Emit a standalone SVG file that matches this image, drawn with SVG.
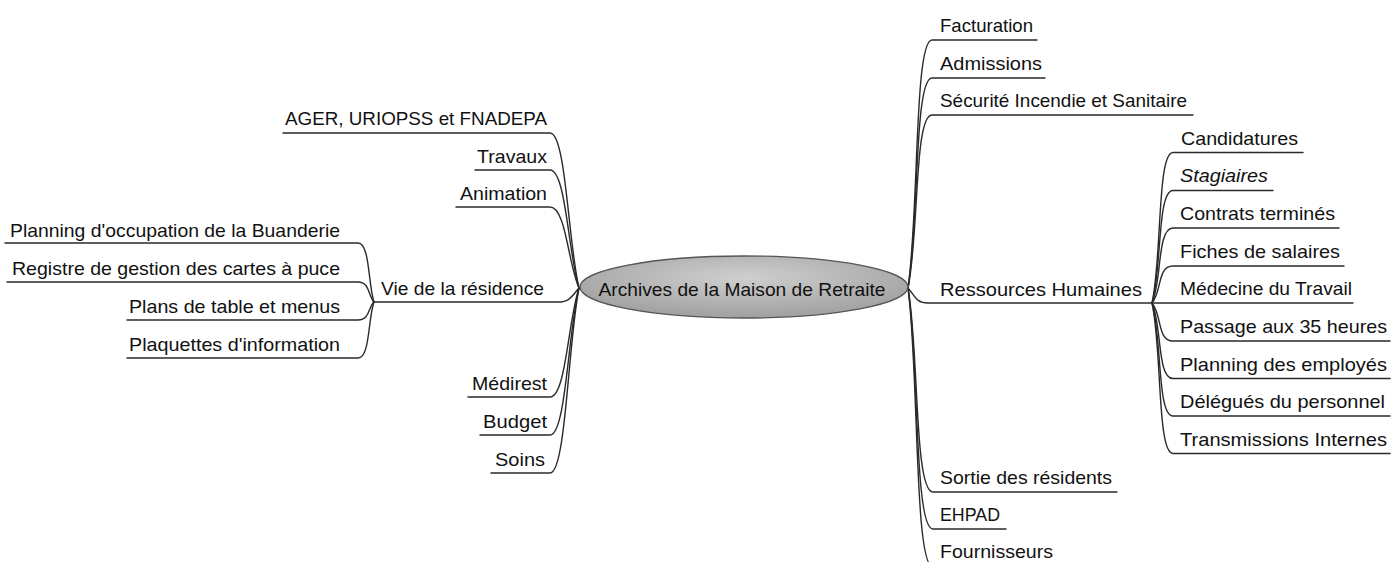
<svg xmlns="http://www.w3.org/2000/svg" width="1391" height="562" viewBox="0 0 1391 562">
<style>
  text { font-family: "Liberation Sans", Arial, sans-serif; font-size: 19px; fill: #111; }
  .l { text-anchor: end; }
  .c { text-anchor: middle; }
  .it { font-style: italic; }
  #connectors path { fill: none; stroke: #2a2a2a; stroke-width: 1.4; stroke-linecap: round; }
</style>
<defs>
  <radialGradient id="g" cx="0.5" cy="0.35" r="0.6">
    <stop offset="0" stop-color="#cfcfcf"/>
    <stop offset="1" stop-color="#a3a3a3"/>
  </radialGradient>
</defs>
<rect width="1391" height="562" fill="#fff"/>
<g id="connectors">
  <path d="M579,288 C568,241.5 566,133 550,133 H283"/>
  <path d="M579,288 C568,252.6 566,170 550,170 H475"/>
  <path d="M579,288 C568,263.7 566,207 550,207 H456"/>
  <path d="M579,288 C572,296 570,302 558,302 H373"/>
  <path d="M579,288 C568,320.7 566,397 550,397 H468"/>
  <path d="M579,288 C568,332.1 566,435 550,435 H480"/>
  <path d="M579,288 C568,343.5 566,473 550,473 H491"/>
  <path d="M374,302 C368,284.3 370,243 358,243 H5"/>
  <path d="M374,302 C368,296 370,282 358,282 H7"/>
  <path d="M374,302 C368,307.4 370,320 358,320 H127"/>
  <path d="M374,302 C368,318.8 370,358 358,358 H127"/>
  <path d="M908,288 C919,213.6 914,40 932,40 H1037"/>
  <path d="M908,288 C919,225 914,78 932,78 H1045"/>
  <path d="M908,288 C919,236.1 914,115 932,115 H1193"/>
  <path d="M908,288 C915,296 916,303 928,303 H1152"/>
  <path d="M908,288 C919,349.2 914,492 933,492 H1117"/>
  <path d="M908,288 C919,360.3 914,529 933,529 H1006"/>
  <path d="M908,288 C919,371.7 914,567 933,567 H1060"/>
  <path d="M1152,303 C1162,257.9 1157,152.5 1173,152.5 H1303"/>
  <path d="M1152,303 C1162,269.3 1157,190.5 1173,190.5 H1273"/>
  <path d="M1152,303 C1162,280.5 1157,228 1173,228 H1339"/>
  <path d="M1152,303 C1162,291.9 1157,266 1173,266 H1344"/>
  <path d="M1152,303 H1353"/>
  <path d="M1152,303 C1162,314.4 1157,341 1173,341 H1390"/>
  <path d="M1152,303 C1162,325.7 1157,378.5 1173,378.5 H1390"/>
  <path d="M1152,303 C1162,336.9 1157,416 1173,416 H1390"/>
  <path d="M1152,303 C1162,348.2 1157,453.5 1173,453.5 H1390"/>
</g>
<g id="center">
  <ellipse cx="744" cy="287" rx="164" ry="31" fill="url(#g)" stroke="#555" stroke-width="1.3"/>
  <text class="c" x="742" y="296" textLength="287" lengthAdjust="spacingAndGlyphs">Archives de la Maison de Retraite</text>
</g>
<g id="ager"><text class="l" x="547" y="125" textLength="262" lengthAdjust="spacingAndGlyphs">AGER, URIOPSS et FNADEPA</text></g>
<g id="travaux"><text class="l" x="547" y="163" textLength="70" lengthAdjust="spacingAndGlyphs">Travaux</text></g>
<g id="animation"><text class="l" x="547" y="200" textLength="87" lengthAdjust="spacingAndGlyphs">Animation</text></g>
<g id="vie"><text class="l" x="544" y="295" textLength="163" lengthAdjust="spacingAndGlyphs">Vie de la résidence</text></g>
<g id="planning-buanderie"><text class="l" x="340" y="237" textLength="330" lengthAdjust="spacingAndGlyphs">Planning d'occupation de la Buanderie</text></g>
<g id="registre"><text class="l" x="340" y="275" textLength="328" lengthAdjust="spacingAndGlyphs">Registre de gestion des cartes à puce</text></g>
<g id="plans"><text class="l" x="340" y="313" textLength="211" lengthAdjust="spacingAndGlyphs">Plans de table et menus</text></g>
<g id="plaquettes"><text class="l" x="340" y="351" textLength="211" lengthAdjust="spacingAndGlyphs">Plaquettes d'information</text></g>
<g id="medirest"><text class="l" x="547" y="390" textLength="75" lengthAdjust="spacingAndGlyphs">Médirest</text></g>
<g id="budget"><text class="l" x="547" y="428" textLength="64" lengthAdjust="spacingAndGlyphs">Budget</text></g>
<g id="soins"><text class="l" x="545" y="466" textLength="50" lengthAdjust="spacingAndGlyphs">Soins</text></g>
<g id="facturation"><text x="940" y="32" textLength="93" lengthAdjust="spacingAndGlyphs">Facturation</text></g>
<g id="admissions"><text x="940" y="70" textLength="102" lengthAdjust="spacingAndGlyphs">Admissions</text></g>
<g id="securite"><text x="940" y="107" textLength="247" lengthAdjust="spacingAndGlyphs">Sécurité Incendie et Sanitaire</text></g>
<g id="rh"><text x="940" y="296" textLength="202" lengthAdjust="spacingAndGlyphs">Ressources Humaines</text></g>
<g id="candidatures"><text x="1181" y="145" textLength="117" lengthAdjust="spacingAndGlyphs">Candidatures</text></g>
<g id="stagiaires"><text class="it" x="1180" y="182" textLength="88" lengthAdjust="spacingAndGlyphs">Stagiaires</text></g>
<g id="contrats"><text x="1180" y="220" textLength="155" lengthAdjust="spacingAndGlyphs">Contrats terminés</text></g>
<g id="fiches"><text x="1180" y="258" textLength="160" lengthAdjust="spacingAndGlyphs">Fiches de salaires</text></g>
<g id="medecine"><text x="1180" y="295" textLength="172" lengthAdjust="spacingAndGlyphs">Médecine du Travail</text></g>
<g id="passage"><text x="1180" y="333" textLength="207" lengthAdjust="spacingAndGlyphs">Passage aux 35 heures</text></g>
<g id="planning-employes"><text x="1180" y="371" textLength="207" lengthAdjust="spacingAndGlyphs">Planning des employés</text></g>
<g id="delegues"><text x="1180" y="408" textLength="205" lengthAdjust="spacingAndGlyphs">Délégués du personnel</text></g>
<g id="transmissions"><text x="1180" y="446" textLength="207" lengthAdjust="spacingAndGlyphs">Transmissions Internes</text></g>
<g id="sortie"><text x="940" y="484" textLength="172" lengthAdjust="spacingAndGlyphs">Sortie des résidents</text></g>
<g id="ehpad"><text x="940" y="521" textLength="60" lengthAdjust="spacingAndGlyphs">EHPAD</text></g>
<g id="fournisseurs"><text x="940" y="558" textLength="113" lengthAdjust="spacingAndGlyphs">Fournisseurs</text></g>
</svg>
